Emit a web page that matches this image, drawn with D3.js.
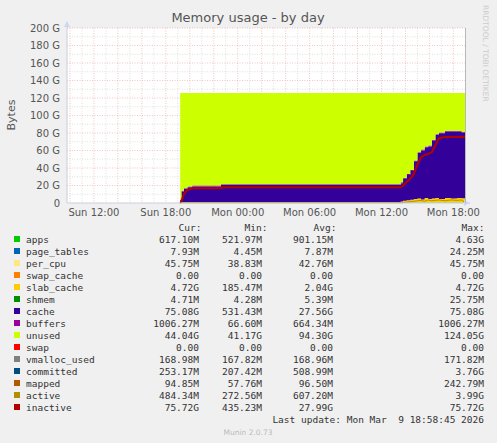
<!DOCTYPE html>
<html>
<head>
<meta charset="utf-8" />
<title>Memory usage - by day</title>
<style>
  body { margin: 0; background: #f0f0f0; }
  text { font-family: "DejaVu Sans", sans-serif; }
  .mono { font-family: "DejaVu Sans Mono", monospace; font-size: 9.5px; fill: #333; }
</style>
</head>
<body>
<script src="https://cdn.jsdelivr.net/npm/d3@7"></script>
<svg id="chart" width="497" height="443"></svg>
<script>
// hours since Sun 00:00
var hours    = [19.2, 19.3, 19.5, 19.8, 20.2, 20.5, 22.6, 22.7, 37.6, 37.8, 38.1, 38.4, 38.7, 39.0, 39.3, 39.6, 39.9, 40.2, 40.5, 40.8, 41.3, 41.8, 42.3, 42.7, 42.97];
var cacheG   = [0, 3, 12, 15, 17, 18, 18, 19.5, 19.5, 21, 25, 29, 33, 43, 52, 56, 58, 60, 66, 72, 75, 76, 76.5, 76, 75.1];
var slabG    = [0, 0.2, 0.4, 0.5, 0.5, 0.5, 0.5, 0.5, 0.5, 1, 2, 2.5, 3, 4, 4.5, 3.5, 5, 4, 4.5, 5, 4, 5, 4.5, 5, 4.7];
var appsG    = [0, 0.3, 0.5, 0.5, 0.5, 0.5, 0.5, 0.5, 0.5, 0.6, 0.6, 0.6, 0.6, 0.6, 0.6, 0.6, 0.6, 0.6, 0.6, 0.6, 0.6, 0.6, 0.6, 0.6, 0.6];
var buffersG = [0, 0.5, 1, 1, 1, 1, 1, 1, 1, 1, 1, 1, 1, 1, 1, 1, 1, 1, 1, 1, 1, 1, 1, 1, 1];
var inactiveG= [0, 2, 10, 15, 16.5, 17, 17, 18, 18, 20, 24, 28, 33, 44, 52, 55, 56, 58, 66, 74, 75.5, 75.5, 75.5, 75.5, 75.7];
var activeG  = [0, 0.2, 0.3, 0.3, 0.3, 0.3, 0.3, 0.3, 0.3, 0.5, 1, 1.5, 2, 2.5, 3, 2, 3.5, 2.5, 3, 3.5, 2.5, 3.5, 3, 3.5, 0.5];
var totalG = 125.8;

var xTicks = [12, 18, 24, 30, 36, 42];
var xTickLabels = ["Sun 12:00", "Sun 18:00", "Mon 00:00", "Mon 06:00", "Mon 12:00", "Mon 18:00"];
var yTicks = [0, 20, 40, 60, 80, 100, 120, 140, 160, 180, 200];

var legendNames = ["apps", "page_tables", "per_cpu", "swap_cache", "slab_cache", "shmem", "cache", "buffers", "unused", "swap", "vmalloc_used", "committed", "mapped", "active", "inactive"];
var legendColors = ["#00cc00", "#0066b3", "#ffe680", "#ff8000", "#ffcc00", "#008f00", "#330099", "#990099", "#ccff00", "#ff0000", "#808080", "#004d80", "#b35a00", "#b38f00", "#b30000"];
var curVals = ["617.10M", "7.93M", "45.75M", "0.00", "4.72G", "4.71M", "75.08G", "1006.27M", "44.04G", "0.00", "168.98M", "253.17M", "94.85M", "484.34M", "75.72G"];
var minVals = ["521.97M", "4.45M", "38.83M", "0.00", "185.47M", "4.28M", "531.43M", "66.60M", "41.17G", "0.00", "167.82M", "207.42M", "57.76M", "272.56M", "435.23M"];
var avgVals = ["901.15M", "7.87M", "42.76M", "0.00", "2.04G", "5.39M", "27.56G", "664.34M", "94.30G", "0.00", "168.96M", "508.99M", "96.50M", "607.20M", "27.99G"];
var maxVals = ["4.63G", "24.25M", "45.75M", "0.00", "4.72G", "25.75M", "75.08G", "1006.27M", "124.05G", "0.00", "171.82M", "3.76G", "242.79M", "3.99G", "75.72G"];

var svg = d3.select("#chart");
var x = d3.scaleLinear().domain([9.75, 42.97]).range([67, 465]);
var y = d3.scaleLinear().domain([0, 200]).range([203, 28]);

svg.append("rect").attr("x", 67).attr("y", 28).attr("width", 398).attr("height", 175).attr("fill", "#fff");

// grid
var g = svg.append("g");
d3.range(10, 43, 1).forEach(function (h) {
  var major = h % 2 === 0;
  g.append("line").attr("x1", x(h)).attr("x2", x(h)).attr("y1", 28).attr("y2", 203)
    .attr("stroke", major ? "#e8a0a0" : "#ccc").attr("stroke-width", 0.6).attr("stroke-dasharray", "1,1.5");
});
d3.range(10, 201, 10).forEach(function (v) {
  var major = v % 20 === 0;
  g.append("line").attr("x1", 67).attr("x2", 465).attr("y1", y(v)).attr("y2", y(v))
    .attr("stroke", major ? "#e8a0a0" : "#ccc").attr("stroke-width", 0.6).attr("stroke-dasharray", "1,1.5");
});

// stacked areas
var rows = hours.map(function (h, i) {
  var used = appsG[i] + slabG[i] + cacheG[i] + buffersG[i];
  return { h: h, apps: appsG[i], slab: slabG[i], cache: cacheG[i], buffers: buffersG[i], unused: i === 0 ? 0 : totalG - used };
});
var keys = ["apps", "slab", "cache", "buffers", "unused"];
var colors = { apps: "#00cc00", slab: "#ffcc00", cache: "#330099", buffers: "#990099", unused: "#ccff00" };
var stack = d3.stack().keys(keys)(rows);
var area = d3.area().curve(d3.curveStepBefore)
  .x(function (d) { return x(d.data.h); })
  .y0(function (d) { return y(d[0]); })
  .y1(function (d) { return y(d[1]); });
svg.selectAll("path.layer").data(stack).enter().append("path")
  .attr("fill", function (d) { return colors[d.key]; })
  .attr("d", area);

var line = d3.line().x(function (d) { return x(d[0]); }).y(function (d) { return y(d[1]); });
svg.append("path").attr("fill", "none").attr("stroke", "#b38f00").attr("stroke-width", 1)
  .attr("d", line(hours.map(function (h, i) { return [h, activeG[i]]; })));
svg.append("path").attr("fill", "none").attr("stroke", "#b30000").attr("stroke-width", 2)
  .attr("d", line(hours.map(function (h, i) { return [h, inactiveG[i]]; })));

// axes
svg.append("line").attr("x1", 67).attr("x2", 470).attr("y1", 203).attr("y2", 203).attr("stroke", "#ccd").attr("stroke-width", 1);
svg.append("line").attr("x1", 67).attr("x2", 67).attr("y1", 22).attr("y2", 203).attr("stroke", "#ccd").attr("stroke-width", 1);
svg.append("path").attr("d", "M464,200 L470,203 L464,206 Z").attr("fill", "#ccd8f0");
svg.append("path").attr("d", "M64,27 L67,21 L70,27 Z").attr("fill", "#ccd8f0");
svg.append("line").attr("x1", 465.5).attr("x2", 465.5).attr("y1", 28).attr("y2", 203).attr("stroke", "#aaa").attr("stroke-width", 0.8);

svg.selectAll("text.yt").data(yTicks).enter().append("text")
  .attr("x", 60).attr("y", function (d) { return y(d) + 3.5; }).attr("text-anchor", "end")
  .attr("font-size", 10).attr("fill", "#555")
  .text(function (d) { return d === 0 ? "0" : d + " G"; });
svg.selectAll("text.xt").data(xTicks).enter().append("text")
  .attr("x", function (d) { return x(d); }).attr("y", 216).attr("text-anchor", "middle")
  .attr("font-size", 10).attr("fill", "#555")
  .text(function (d, i) { return xTickLabels[i]; });

svg.append("text").attr("x", 248).attr("y", 22).attr("text-anchor", "middle").attr("font-size", 13).attr("fill", "#555").text("Memory usage - by day");
svg.append("text").attr("transform", "translate(15,115) rotate(-90)").attr("text-anchor", "middle").attr("font-size", 11).attr("fill", "#555").text("Bytes");
svg.append("text").attr("transform", "translate(483,5) rotate(90)").attr("font-size", 7.5).attr("fill", "#ccc").text("RRDTOOL / TOBI OETIKER");

// legend
var lg = svg.append("g");
var hdr = [["Cur:", 190], ["Min:", 256], ["Avg:", 325], ["Max:", 473]];
hdr.forEach(function (h) { lg.append("text").attr("class", "mono").attr("x", h[1]).attr("y", 231).attr("text-anchor", "middle").text(h[0]); });
legendNames.forEach(function (n, i) {
  var yy = 243 + i * 12;
  lg.append("rect").attr("x", 14).attr("y", yy - 7).attr("width", 6).attr("height", 6).attr("fill", legendColors[i]);
  lg.append("text").attr("class", "mono").attr("x", 26).attr("y", yy).text(n);
  lg.append("text").attr("class", "mono").attr("x", 199).attr("y", yy).attr("text-anchor", "end").text(curVals[i]);
  lg.append("text").attr("class", "mono").attr("x", 262).attr("y", yy).attr("text-anchor", "end").text(minVals[i]);
  lg.append("text").attr("class", "mono").attr("x", 333).attr("y", yy).attr("text-anchor", "end").text(avgVals[i]);
  lg.append("text").attr("class", "mono").attr("x", 484).attr("y", yy).attr("text-anchor", "end").text(maxVals[i]);
});
lg.append("text").attr("class", "mono").attr("x", 484).attr("y", 423).attr("text-anchor", "end").attr("xml:space", "preserve").text("Last update: Mon Mar  9 18:58:45 2026");
svg.append("text").attr("x", 248).attr("y", 435).attr("text-anchor", "middle").attr("font-size", 7.5).attr("fill", "#bbb").text("Munin 2.0.73");
</script>
</body>
</html>
